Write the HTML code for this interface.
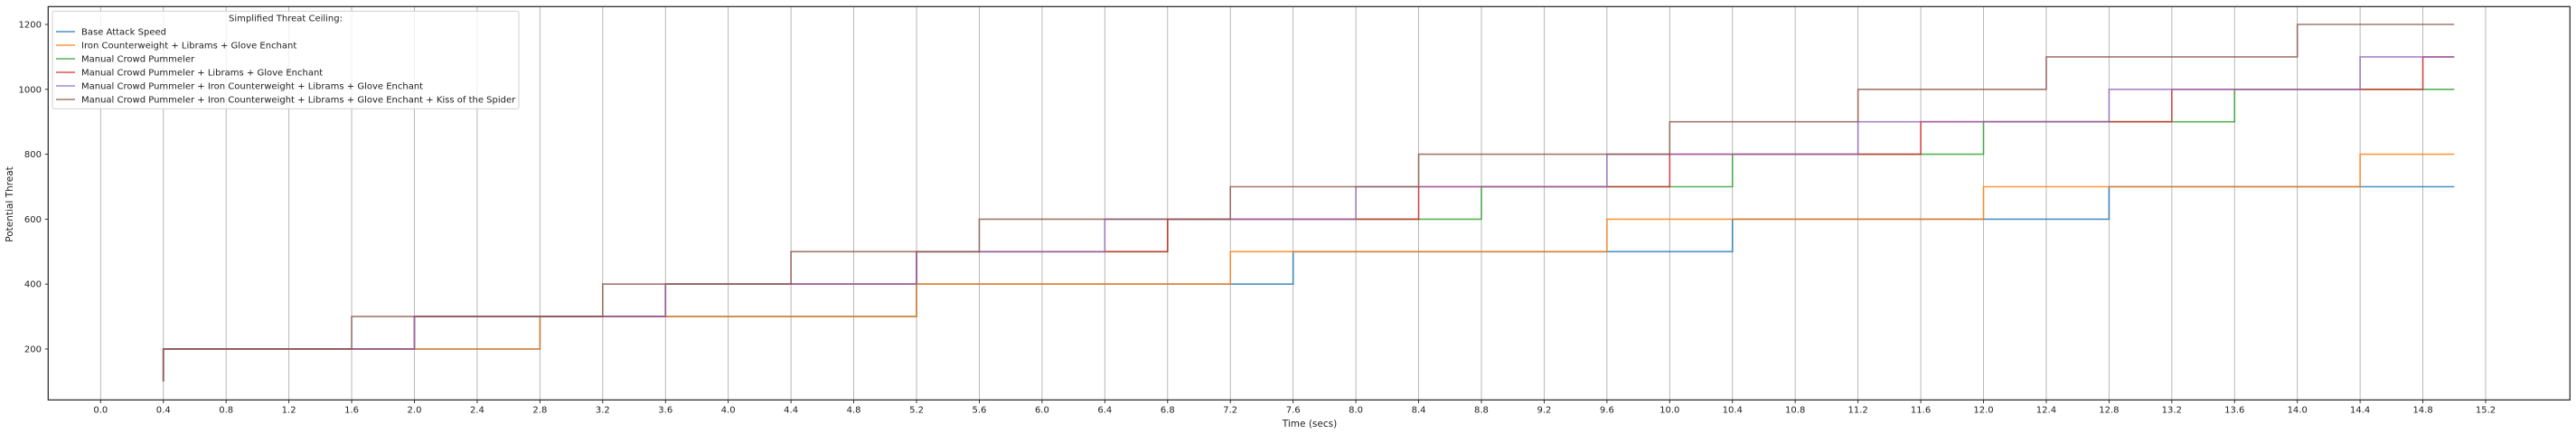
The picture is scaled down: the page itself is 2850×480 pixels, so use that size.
<!DOCTYPE html>
<html><head><meta charset="utf-8"><style>
html,body{margin:0;padding:0;background:#fff;}
svg{display:block;font-family:"DejaVu Sans","Liberation Sans",sans-serif;}
</style></head><body>
<svg id="chart" width="2850" height="480" viewBox="0 0 2850 480" xmlns="http://www.w3.org/2000/svg">
<g id="grid"></g>
<g id="series"></g>
<rect x="53.3" y="7.3" width="2790" height="435" fill="none" stroke="#222" stroke-width="1.2"/>
<g id="xticks"></g>
<g id="yticks"></g>
<text x="1449" y="472" font-size="10.5" text-anchor="middle" fill="#222">Time (secs)</text>
<text x="14" y="226" font-size="10.5" text-anchor="middle" fill="#222" transform="rotate(-90 14 226)">Potential Threat</text>
<g id="legend"></g>
</svg>
<script>
const xTicks = [0.0,0.4,0.8,1.2,1.6,2.0,2.4,2.8,3.2,3.6,4.0,4.4,4.8,5.2,5.6,6.0,6.4,6.8,7.2,7.6,8.0,8.4,8.8,9.2,9.6,10.0,10.4,10.8,11.2,11.6,12.0,12.4,12.8,13.2,13.6,14.0,14.4,14.8,15.2];
const yTicks = [200,400,600,800,1000,1200];
const seriesNames = ["Base Attack Speed","Iron Counterweight + Librams + Glove Enchant","Manual Crowd Pummeler","Manual Crowd Pummeler + Librams + Glove Enchant","Manual Crowd Pummeler + Iron Counterweight + Librams + Glove Enchant","Manual Crowd Pummeler + Iron Counterweight + Librams + Glove Enchant + Kiss of the Spider"];
const seriesColors = ["#1f77b4","#ff7f0e","#2ca02c","#d62728","#9467bd","#8c564b"];
const startTime = 0.4, startValue = 100, endTime = 15.0;
const stepTimes = [
 [0.4,2.8,5.2,7.6,10.4,12.8],
 [0.4,2.8,5.2,7.2,9.6,12.0,14.4],
 [0.4,2.0,3.6,5.2,6.8,8.8,10.4,12.0,13.6],
 [0.4,2.0,3.6,5.2,6.8,8.4,10.0,11.6,13.2,14.8],
 [0.4,2.0,3.6,5.2,6.4,8.0,9.6,11.2,12.8,14.4],
 [0.4,1.6,3.2,4.4,5.6,7.2,8.4,10.0,11.2,12.4,14.0]
];
const stepValues = [
 [200,300,400,500,600,700],
 [200,300,400,500,600,700,800],
 [200,300,400,500,600,700,800,900,1000],
 [200,300,400,500,600,700,800,900,1000,1100],
 [200,300,400,500,600,700,800,900,1000,1100],
 [200,300,400,500,600,700,800,900,1000,1100,1200]
];
const NS="http://www.w3.org/2000/svg";
function X(t){return 111.3+173.6*t;}
function Y(v){return 386-(v-200)*0.359;}
function mk(tag,attrs,parent){const e=document.createElementNS(NS,tag);for(const k in attrs)e.setAttribute(k,attrs[k]);parent.appendChild(e);return e;}
const grid=document.getElementById('grid'),xt=document.getElementById('xticks'),yt=document.getElementById('yticks'),sg=document.getElementById('series'),lg=document.getElementById('legend');
xTicks.forEach(t=>{
 const l=mk('line',{x1:X(t),x2:X(t),y1:7.3,y2:442.3,stroke:'#b0b0b0','stroke-width':0.9},grid);
 
 
 const tk=mk('line',{x1:X(t),x2:X(t),y1:442.3,y2:446,stroke:'#222','stroke-width':0.9},xt);
 
 
 const tx=mk('text',{x:X(t),y:456.5,'font-size':10,'text-anchor':'middle',fill:'#222'},xt);
 tx.textContent=t.toFixed(1);
 
 
});
yTicks.forEach(v=>{
 const tk=mk('line',{x1:49.8,x2:53.3,y1:Y(v),y2:Y(v),stroke:'#222','stroke-width':0.9},yt);
 
 
 const tx=mk('text',{x:46,y:Y(v)+3.5,'font-size':10,'text-anchor':'end',fill:'#222'},yt);
 tx.textContent=v;
 
 
});
stepTimes.forEach((ts,i)=>{
 const vs=stepValues[i];
 let d='M'+X(startTime)+' '+Y(startValue);
 for(let k=0;k<ts.length;k++){
  d+=' L'+X(ts[k])+' '+Y(vs[k]);
  const next=k+1<ts.length?ts[k+1]:endTime;
  d+=' L'+X(next)+' '+Y(vs[k]);
 }
 const p=mk('path',{d:d,fill:'none',stroke:seriesColors[i],'stroke-width':1.6,'stroke-opacity':0.8},sg);
 
 
});
const box=mk('rect',{x:58,y:12.3,width:516,height:108,rx:2,fill:'#fff','fill-opacity':0.8,stroke:'#ccc','stroke-width':0.9},lg);


const ttl=mk('text',{x:316,y:23.5,'font-size':10,'text-anchor':'middle',fill:'#222'},lg);
ttl.textContent='Simplified Threat Ceiling:';


seriesNames.forEach((n,i)=>{
 const y=35+15*i;
 const g=mk('g',{},lg);
 
 
 mk('line',{x1:62,x2:83,y1:y,y2:y,stroke:seriesColors[i],'stroke-width':1.6,'stroke-opacity':0.8},g);
 const t=mk('text',{x:90,y:y+3.5,'font-size':10,fill:'#222'},g);
 t.textContent=n;
});
</script>
</body></html>
